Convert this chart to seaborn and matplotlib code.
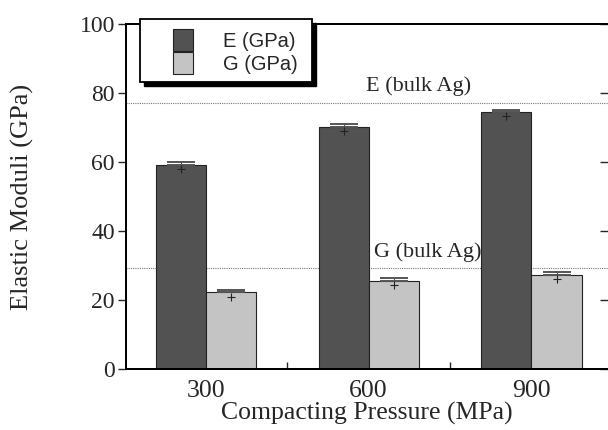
import seaborn as sns
import numpy as np
import matplotlib.pyplot as plt
import matplotlib.patches as mpatches
import pandas as pd

pressures = ["300", "600", "900"]
e_values = [59.2, 70.2, 74.5]
g_values = [22.2, 25.6, 27.2]
e_err = [0.9, 0.7, 0.6]
g_err = [0.8, 0.7, 0.8]
e_bulk = 77.0
g_bulk = 29.3
series = ["E (GPa)", "G (GPa)"]
colors = ["#525252", "#c4c4c4"]

df = pd.DataFrame({
    "pressure": pressures * 2,
    "value": e_values + g_values,
    "err": e_err + g_err,
    "modulus": [series[0]] * 3 + [series[1]] * 3,
})

sns.set_style("white")
plt.rcParams["font.family"] = ["Liberation Serif", "DejaVu Serif"]

fig = plt.figure(figsize=(6.08, 4.30), dpi=100)
ax = fig.add_axes([126 / 608, 61 / 430, 482 / 608, 345 / 430])

sns.barplot(data=df, x="pressure", y="value", hue="modulus", palette=colors,
            width=0.615, errorbar=None, edgecolor="#222222", linewidth=0.8,
            legend=False, ax=ax)

# error bars placed on the bars seaborn drew
for bars, errs in zip(ax.containers, [e_err, g_err]):
    for patch, err in zip(bars.patches, errs):
        xc = patch.get_x() + patch.get_width() / 2
        ax.errorbar(xc, patch.get_height(), yerr=[[0], [err]], fmt="none",
                    ecolor="#555555", elinewidth=0.8, capsize=10, capthick=1.4)
        ax.plot(xc, patch.get_height() - 1.2, marker="+", color="#222222",
                markersize=6, markeredgewidth=0.8)

ax.axhline(e_bulk, color="#777777", lw=0.8, ls=(0, (1, 1)), zorder=0.5)
ax.axhline(g_bulk, color="#777777", lw=0.8, ls=(0, (1, 1)), zorder=0.5)
ax.text(0.985, e_bulk + 2.2, "E (bulk Ag)", fontsize=16, ha="left", va="bottom")
ax.text(1.695, g_bulk + 1.8, "G (bulk Ag)", fontsize=16, ha="right", va="bottom")

ax.set_ylim(0, 100)
ax.set_xlim(-0.49, 2.47)
ax.set_yticks(np.arange(0, 101, 20))
ax.set_xticks([0.5, 1.5], minor=True)
ax.tick_params(axis="y", left=True, direction="out", length=6, width=1,
               labelsize=17, pad=2)
ax.tick_params(axis="x", which="major", length=0, labelsize=18.5, pad=8)
ax.tick_params(axis="x", which="minor", bottom=True, direction="in",
               length=5, width=1)

ax2 = ax.twinx()
ax2.set_ylim(0, 100)
ax2.set_yticks(np.arange(0, 101, 20))
ax2.tick_params(axis="y", right=True, direction="in", length=6, width=1,
                labelright=False)
for a in (ax, ax2):
    for s in ["left", "bottom", "top"]:
        a.spines[s].set_linewidth(1.3)
        a.spines[s].set_color("black")
    a.spines["right"].set_visible(False)

ax.set_xlabel("Compacting Pressure (MPa)", fontsize=18.5, labelpad=0)
ax.set_ylabel("Elastic Moduli (GPa)", fontsize=19)
ax.yaxis.set_label_coords(-0.19, 0.5)

# legend box with drop shadow
shadow = mpatches.Rectangle((144 / 608, 1 - 86 / 430), 172 / 608, 63 / 430,
                            transform=fig.transFigure, facecolor="black",
                            edgecolor="black", zorder=3)
box = mpatches.Rectangle((140 / 608, 1 - 82 / 430), 172 / 608, 63 / 430,
                         transform=fig.transFigure, facecolor="white",
                         edgecolor="black", lw=1.3, zorder=4)
fig.add_artist(shadow)
fig.add_artist(box)
handles = [mpatches.Patch(facecolor=c, edgecolor="#222222", lw=0.8) for c in colors]
fig.legend(handles, series, loc="upper left",
           bbox_to_anchor=(159 / 608, 1 - 15 / 430),
           bbox_transform=fig.transFigure, frameon=False,
           prop={"family": "Liberation Sans", "size": 14.5},
           handlelength=1.0, handleheight=1.3, handletextpad=1.5,
           labelspacing=0.05, borderpad=0.2)

fig.savefig("out.png", dpi=100)
